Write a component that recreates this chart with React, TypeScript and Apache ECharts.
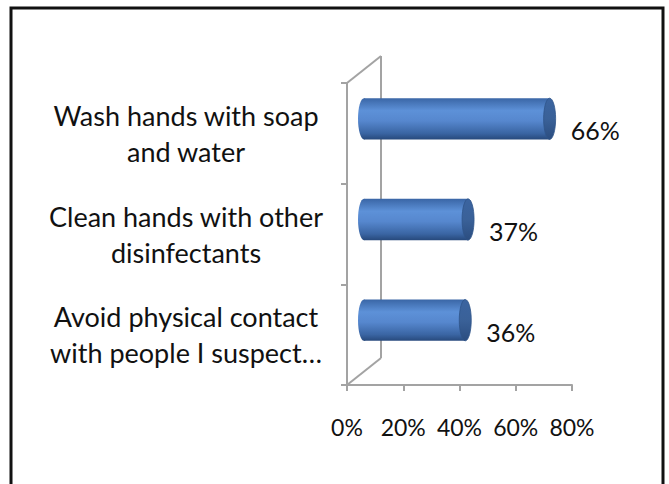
import React, { useEffect, useRef } from "react";
import * as echarts from "echarts";

const categories = [
  "Wash hands with soap\nand water",
  "Clean hands with other\ndisinfectants",
  "Avoid physical contact\nwith people I suspect…",
];
const values = [66, 37, 36];
const xMin = 0;
const xMax = 80;
const xInterval = 20;

const W = 669;
const H = 484;
const GRID = { left: 347, right: 97, top: 83, bottom: 99 };
const DEPTH_X = 34;
const DEPTH_Y = -27;
const FONT = "Lato, 'Open Sans', sans-serif";
const AXIS_GRAY = "#a3a3a3";

export default function App() {
  const ref = useRef<HTMLDivElement>(null);
  useEffect(() => {
    document.body.style.margin = "0";
    const chart = echarts.init(ref.current!, null, { renderer: "svg" });
    const x0 = GRID.left;
    const y0 = H - GRID.bottom;
    const yTop = GRID.top;

    const bodyGrad = () =>
      new echarts.graphic.LinearGradient(0, 0, 0, 1, [
        { offset: 0, color: "#3a66a6" },
        { offset: 0.3, color: "#5d91d8" },
        { offset: 0.55, color: "#5687ce" },
        { offset: 0.85, color: "#3a65a3" },
        { offset: 1, color: "#27497c" },
      ]);
    const capGrad = () =>
      new echarts.graphic.LinearGradient(0, 0, 0, 1, [
        { offset: 0, color: "#3b64a0" },
        { offset: 0.5, color: "#3a6198" },
        { offset: 1, color: "#2b4d80" },
      ]);

    chart.setOption({
      animation: false,
      grid: { left: GRID.left, right: GRID.right, top: GRID.top, bottom: GRID.bottom },
      xAxis: {
        type: "value",
        min: xMin,
        max: xMax,
        interval: xInterval,
        axisLine: { show: true, lineStyle: { color: AXIS_GRAY, width: 2 } },
        axisTick: { show: true, length: 6, lineStyle: { color: AXIS_GRAY, width: 2 } },
        splitLine: { show: false },
        axisLabel: {
          formatter: (v: number) => `${v}%`,
          fontFamily: FONT,
          fontSize: 23,
          color: "#111",
          margin: 30,
        },
      },
      yAxis: {
        type: "category",
        data: categories,
        inverse: true,
        axisLine: { show: true, lineStyle: { color: AXIS_GRAY, width: 2 } },
        axisTick: { show: true, length: 6, lineStyle: { color: AXIS_GRAY, width: 2 } },
        splitLine: { show: false },
        axisLabel: {
          margin: 27,
          formatter: (v: string) =>
            v
              .split("\n")
              .map((l) => `{c|${l}}`)
              .join("\n"),
          rich: {
            c: {
              width: 268,
              align: "center",
              fontFamily: FONT,
              fontSize: 27,
              lineHeight: 36,
              color: "#111",
            },
          },
        },
      },
      graphic: [
        {
          type: "line",
          z: 1,
          shape: { x1: x0 + DEPTH_X, y1: yTop + DEPTH_Y, x2: x0 + DEPTH_X, y2: y0 + DEPTH_Y },
          style: { stroke: AXIS_GRAY, lineWidth: 2 },
        },
        {
          type: "line",
          z: 1,
          shape: { x1: x0, y1: yTop, x2: x0 + DEPTH_X, y2: yTop + DEPTH_Y },
          style: { stroke: AXIS_GRAY, lineWidth: 2 },
        },
        {
          type: "line",
          z: 1,
          shape: { x1: x0, y1: y0, x2: x0 + DEPTH_X, y2: y0 + DEPTH_Y },
          style: { stroke: AXIS_GRAY, lineWidth: 2 },
        },
        {
          type: "rect",
          z: 10,
          shape: { x: 11, y: 8, width: 652, height: 540 },
          style: { fill: "none", stroke: "#111", lineWidth: 3 },
        },
      ],
      series: [
        {
          type: "custom",
          z: 5,
          data: values.map((v, i) => [v, i]),
          encode: { x: 0, y: 1 },
          renderItem: (params: any, api: any) => {
            const v = api.value(0);
            const c = api.value(1);
            const start = api.coord([0, c]);
            const end = api.coord([v, c]);
            const band = api.size([0, 1])[1];
            const h = band * 0.41;
            const xs = start[0] + DEPTH_X / 2;
            const xe = end[0] + DEPTH_X / 2;
            const cy = start[1] + DEPTH_Y / 2 - 1;
            const rx = 6;
            return {
              type: "group",
              children: [
                {
                  type: "ellipse",
                  shape: { cx: xs, cy, rx, ry: h / 2 },
                  style: { fill: bodyGrad() },
                },
                {
                  type: "rect",
                  shape: { x: xs, y: cy - h / 2, width: xe - xs, height: h },
                  style: { fill: bodyGrad() },
                },
                {
                  type: "ellipse",
                  shape: { cx: xe, cy, rx, ry: h / 2 },
                  style: { fill: capGrad(), stroke: "#2f5489", lineWidth: 0.8 },
                },
                {
                  type: "text",
                  style: {
                    x: end[0] + 38,
                    y: start[1] - 3,
                    text: `${v}%`,
                    fontFamily: FONT,
                    fontSize: 25,
                    fill: "#111",
                    align: "left",
                    verticalAlign: "middle",
                  },
                },
              ],
            };
          },
        },
      ],
    });
    return () => chart.dispose();
  }, []);
  return <div ref={ref} style={{ width: W, height: H }} />;
}
